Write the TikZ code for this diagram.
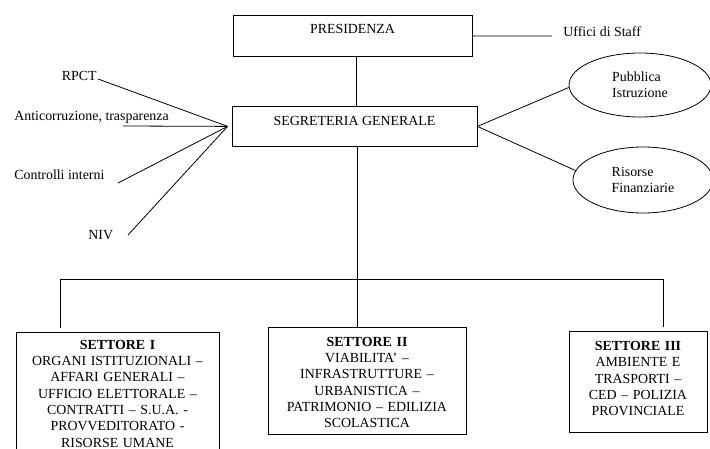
\documentclass[tikz,border=0pt]{standalone}
\usepackage{fontspec}
\setmainfont{Liberation Serif}
\usetikzlibrary{shapes.geometric}

\begin{document}
\begin{tikzpicture}[x=1pt,y=-1pt,line width=0.8pt,
  font=\fontsize{13.9}{16.3}\selectfont,
  box/.style={draw,rectangle,inner sep=0pt,anchor=north},
  settore/.style={box,inner xsep=4pt,align=center},
  oval/.style={draw,ellipse,inner sep=1pt,align=left},
  lbl/.style={inner sep=0pt}]
  \useasboundingbox (0,0) rectangle (710,449);
  \clip (0,0) rectangle (710,449);
   \draw (352.5,15) node[box,minimum width=239pt,text height=18.3pt,text depth=22.7pt] (pres) {PRESIDENZA};
   \draw (354.5,106) node[box,minimum width=245pt,text height=19pt,text depth=21pt] (seg) {SEGRETERIA GENERALE};
  \draw (563,36.6) node[lbl,anchor=base west] (staff) {Uffici di Staff};
    \draw (97,80.3) node[lbl,anchor=base east] (rpct) {RPCT};
    \draw (14,121) node[lbl,anchor=base west] (anti) {Anticorruzione, trasparenza};
    \draw (14,179.3) node[lbl,anchor=base west] (contr) {Controlli interni};
    \draw (88,240) node[lbl,anchor=base west] (niv) {NIV};
    \draw (640,85) node[oval,minimum width=142pt,minimum height=64pt] (pub) {Pubblica\\Istruzione};
    \draw (643,180) node[oval,minimum width=140pt,minimum height=66pt] (ris) {Risorse\\Finanziarie};
      \draw (117.5,332) node[settore,text width=195pt,text height=17pt,text depth=120pt] (s1) {\textbf{SETTORE I}\\ORGANI ISTITUZIONALI –\\AFFARI GENERALI –\\UFFICIO ELETTORALE –\\CONTRATTI – S.U.A. -\\PROVVEDITORATO -\\RISORSE UMANE};
      \draw (367,327) node[settore,text width=190pt,text height=19pt,text depth=88pt] (s2) {\textbf{SETTORE II}\\VIABILITA’ –\\INFRASTRUTTURE –\\URBANISTICA –\\PATRIMONIO – EDILIZIA\\SCOLASTICA};
      \draw (638,331) node[settore,text width=130pt,text height=19.3pt,text depth=81.7pt] (s3) {\textbf{SETTORE III}\\AMBIENTE E\\TRASPORTI –\\CED – POLIZIA\\PROVINCIALE};

  \coordinate (fan) at ([xshift=-4pt]seg.west);
  \coordinate (rpctend) at (98,79);
  \coordinate (antiend) at (123,126);
  \coordinate (contrend) at (118,183);
  \coordinate (nivend) at (128,235);
  \coordinate (staffend) at (552,36);
  \coordinate (segdrop) at ([xshift=3pt]seg.south);
  \coordinate (busL) at (60,279);
  \coordinate (busR) at (663,279);

       \path[-] ([xshift=3.5pt]pres.south) edge ([xshift=1.5pt]seg.north);
       \path[-] (pres.east) edge (staffend);
       \path[-] (rpctend) edge (fan);
       \path[-] (antiend) edge (fan);
       \path[-] (contrend) edge (fan);
       \path[-] (nivend) edge (fan);
       \path[-] (seg.east) edge (pub.182);
       \path[-] (seg.east) edge (ris.172);
       \path[-] (segdrop) edge (segdrop |- s2.north);
       \path[-] (busL) edge (busR);
	 \path[-] (busL) edge[shorten >=4pt] (busL |- s1.north);
	 \path[-] (busR) edge[shorten >=4pt] (busR |- s3.north);

\end{tikzpicture}
\end{document}
